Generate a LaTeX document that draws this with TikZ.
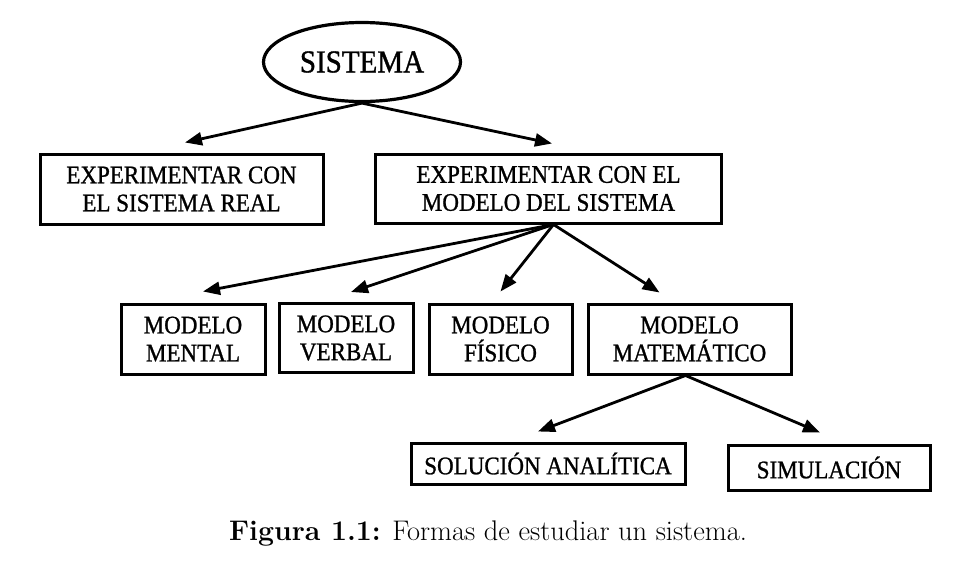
\documentclass[tikz,border=0pt]{standalone}
\usepackage{fontspec}
\newfontfamily\tms[FakeStretch=0.91,FakeBold=1]{Liberation Serif}
\usetikzlibrary{shapes.geometric,arrows.meta}
\begin{document}
\begin{tikzpicture}[x=1pt,y=-1pt,
  box/.style={draw,line width=3pt,inner sep=0pt,align=center,font=\tms\fontsize{25.3}{28}\selectfont},
  arr/.style={line width=2.8pt,-{Triangle[length=17pt,width=13pt]}}]
\useasboundingbox (0,0) rectangle (977,584);
\node[draw,ellipse,line width=3.2pt,minimum width=197pt,minimum height=79pt,inner sep=0pt,font=\tms\fontsize{31.9}{34}\selectfont] (sis) at (362,62) {SISTEMA};
\node[box,minimum width=283pt,minimum height=70pt] (real) at (181.5,189) {EXPERIMENTAR CON\\EL SISTEMA REAL};
\node[box,minimum width=346pt,minimum height=69pt] (mod) at (548.5,188.5) {EXPERIMENTAR CON EL\\MODELO DEL SISTEMA};
\node[box,minimum width=144pt,minimum height=70pt] (men) at (193,339) {MODELO\\MENTAL};
\node[box,minimum width=134pt,minimum height=69pt] (ver) at (346,338) {MODELO\\VERBAL};
\node[box,minimum width=143pt,minimum height=70pt] (fis) at (500.5,339) {MODELO\\FÍSICO};
\node[box,minimum width=203pt,minimum height=70pt] (mat) at (689.5,339) {MODELO\\MATEMÁTICO};
\node[box,minimum width=274pt,minimum height=41pt] (sol) at (548,463.5) {SOLUCIÓN ANALÍTICA};
\node[box,minimum width=202pt,minimum height=45pt] (sim) at (829,467.5) {SIMULACIÓN};
\node[anchor=base,font=\fontsize{28.4}{34}\selectfont] (cap) at (488,540) {\textbf{Figura 1.1:} Formas de estudiar un sistema.};
\draw[arr] (sis.south) -- ([xshift=3.5pt,yshift=10pt]real.north);
\draw[arr] (sis.south) -- ([xshift=3.5pt,yshift=9pt]mod.north);
\draw[arr] ([xshift=5pt]mod.south) -- ([xshift=10pt,yshift=11pt]men.north);
\draw[arr] ([xshift=5pt]mod.south) -- ([xshift=5pt,yshift=10pt]ver.north);
\draw[arr] ([xshift=5pt]mod.south) -- ([xshift=0pt,yshift=11pt]fis.north);
\draw[arr] ([xshift=5pt]mod.south) -- ([xshift=-30pt,yshift=10pt]mat.north);
\draw[arr] ([xshift=-4pt]mat.south) -- ([xshift=-10pt,yshift=10pt]sol.north);
\draw[arr] ([xshift=-4pt]mat.south) -- ([xshift=-9pt,yshift=11pt]sim.north);
\end{tikzpicture}
\end{document}
